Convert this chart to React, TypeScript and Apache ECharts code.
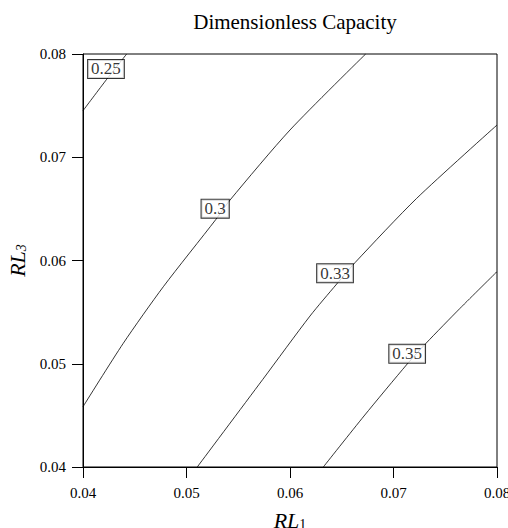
import React, { useEffect, useRef } from "react";
import * as echarts from "echarts";

const xTicks = [0.04, 0.05, 0.06, 0.07, 0.08];
const yTicks = [0.04, 0.05, 0.06, 0.07, 0.08];

const levels = [0.25, 0.3, 0.33, 0.35];

const contour025: [number, number][] = [
  [0.04, 0.07451],
  [0.04229, 0.07755],
  [0.04422, 0.08],
];
const contour030: [number, number][] = [
  [0.04, 0.04584],
  [0.04389, 0.05198],
  [0.04776, 0.05746],
  [0.05285, 0.06399],
  [0.0542, 0.06585],
  [0.06, 0.07264],
  [0.06731, 0.08],
];
const contour033: [number, number][] = [
  [0.05104, 0.04],
  [0.05736, 0.04847],
  [0.06193, 0.05462],
  [0.06451, 0.05772],
  [0.06628, 0.05979],
  [0.07224, 0.06602],
  [0.08, 0.07312],
];
const contour035: [number, number][] = [
  [0.06322, 0.04],
  [0.06715, 0.04494],
  [0.07133, 0.04998],
  [0.07314, 0.05198],
  [0.07643, 0.05537],
  [0.08, 0.05892],
];
const contours = [contour025, contour030, contour033, contour035];

// label anchor points (data coordinates) for each level
const labelX = [0.04222, 0.05277, 0.06435, 0.07132];
const labelY = [0.07855, 0.06502, 0.05876, 0.05097];

const FONT = "'Liberation Serif', 'Times New Roman', serif";

export default function App() {
  const ref = useRef<HTMLDivElement>(null);
  useEffect(() => {
    if (!ref.current) return;
    const chart = echarts.init(ref.current, undefined, { renderer: "svg" });
    const lineSeries = contours.map((c, i) => ({
      type: "line",
      name: String(levels[i]),
      data: c,
      smooth: 0.25,
      symbol: "none",
      clip: true,
      lineStyle: { color: "#000", width: 0.8 },
      z: 2,
    }));
    const labelSeries = {
      type: "scatter",
      symbolSize: 0,
      data: levels.map((lv, i) => [labelX[i], labelY[i], lv]),
      label: {
        show: true,
        position: "inside",
        formatter: (p: any) => String(p.value[2]),
        fontFamily: FONT,
        fontSize: 17,
        color: "#000",
        backgroundColor: "#fff",
        borderColor: "#000",
        borderWidth: 1,
        padding: [1, 3, 0, 3],
      },
      z: 5,
    };
    const axisCommon = {
      type: "value",
      min: 0.04,
      max: 0.08,
      interval: 0.01,
      splitLine: { show: false },
      axisLine: { show: true, lineStyle: { color: "#000", width: 1 } },
      axisTick: { show: true, length: 11, lineStyle: { color: "#000", width: 1 } },
      axisLabel: {
        fontFamily: FONT,
        fontSize: 15,
        color: "#000",
        formatter: (v: number) => v.toFixed(2),
      },
      nameLocation: "middle",
    };
    chart.setOption({
      animation: false,
      backgroundColor: "#fff",
      title: {
        text: "Dimensionless Capacity",
        left: 290,
        textAlign: "center",
        top: 6,
        textStyle: { fontFamily: FONT, fontSize: 21, fontWeight: "normal", color: "#000" },
      },
      grid: {
        left: 83,
        right: 11,
        top: 54,
        bottom: 61,
        containLabel: false,
        outerBoundsMode: "none",
        show: true,
        borderColor: "#000",
        borderWidth: 1,
        backgroundColor: "transparent",
      },
      xAxis: {
        ...axisCommon,
        axisLabel: { ...axisCommon.axisLabel, margin: 18 },
        name: "{i|RL}{s|1}",
        nameGap: 42,
        nameTextStyle: {
          rich: {
            i: { fontFamily: FONT, fontStyle: "italic", fontSize: 22, color: "#000" },
            s: { fontFamily: FONT, fontSize: 14, color: "#000", verticalAlign: "bottom", padding: [8, 0, 0, 0] },
          },
        },
      },
      yAxis: {
        ...axisCommon,
        axisLabel: { ...axisCommon.axisLabel, margin: 17 },
        name: "{i|RL}{s|3}",
        nameGap: 50,
        nameTextStyle: {
          rich: {
            i: { fontFamily: FONT, fontStyle: "italic", fontSize: 22, color: "#000" },
            s: { fontFamily: FONT, fontStyle: "italic", fontSize: 14, color: "#000", verticalAlign: "bottom", padding: [8, 0, 0, 0] },
          },
        },
      },
      series: [...lineSeries, labelSeries],
    });
    return () => chart.dispose();
  }, []);
  return (
    <div
      ref={ref}
      style={{ position: "absolute", left: 0, top: 0, width: 508, height: 528 }}
    />
  );
}
